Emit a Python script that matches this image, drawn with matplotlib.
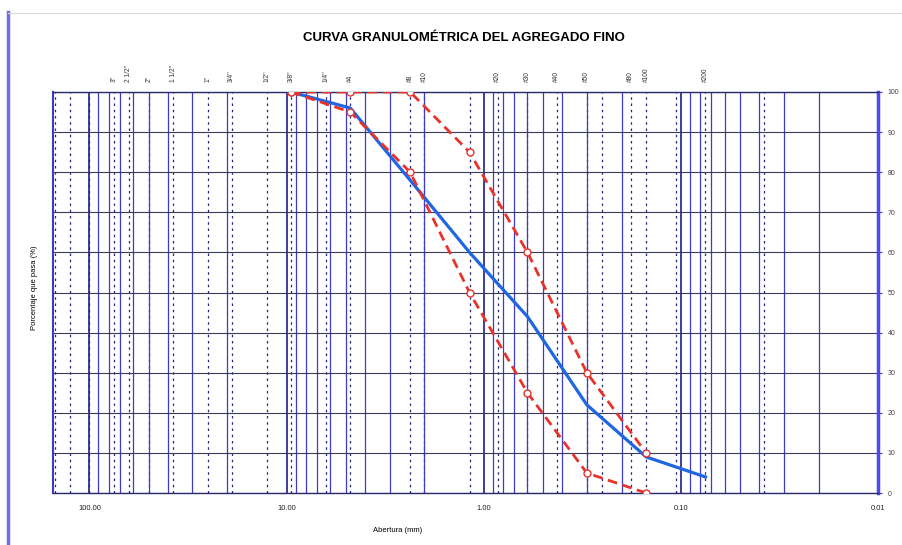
import numpy as np
import matplotlib
matplotlib.use("Agg")
import matplotlib.pyplot as plt
import matplotlib.transforms as mtransforms
from matplotlib.lines import Line2D
from matplotlib.ticker import LogLocator, FixedLocator, FuncFormatter, NullFormatter

plt.rcParams['font.family'] = ['Liberation Sans', 'DejaVu Sans']

# curva de la muestra (abertura en mm, % que pasa)
abertura = [9.5, 4.75, 2.36, 1.18, 0.6, 0.3, 0.15, 0.075]
pasa = [100, 96, 78, 60, 44, 22, 9, 4]

# limites de la norma
abertura_lim = [9.5, 4.75, 2.36, 1.18, 0.6, 0.3, 0.15]
lim_sup = [100, 100, 100, 85, 60, 30, 10]
lim_inf = [100, 95, 80, 50, 25, 5, 0]

# nombres de tamices arriba del grafico
tamiz_mm = [75, 63, 50, 37.5, 25, 19, 12.5, 9.5, 6.3, 4.75, 2.36, 2.0,
            0.85, 0.6, 0.425, 0.3, 0.18, 0.15, 0.075]
tamiz_lbl = ['3"', '2 1/2"', '2"', '1 1/2"', '1"', '3/4"', '1/2"', '3/8"', '1/4"',
             '#4', '#8', '#10', '#20', '#30', '#40', '#50', '#80', '#100', '#200']

# lineas punteadas en cada tamiz
lineas_tamiz = [150, 125, 100, 75, 63, 50, 37.5, 25, 19, 12.5, 9.5, 6.3, 4.75,
                2.36, 2.0, 1.18, 0.85, 0.6, 0.425, 0.3, 0.25, 0.18, 0.15,
                0.106, 0.075, 0.038]

x_major = [100, 10, 1, 0.1, 0.01]
y_ticks = list(range(0, 101, 10))

W, H = 903, 545
fig = plt.figure(figsize=(W / 100, H / 100), dpi=100)
ax = fig.add_axes([53 / W, 1 - 493 / H, (878 - 53) / W, (493 - 92) / H])

ax.set_xscale('log')
ax.set_xlim(153, 0.01)
ax.set_ylim(0, 100)

ax.xaxis.set_major_locator(FixedLocator(x_major))
ax.xaxis.set_major_formatter(FuncFormatter(lambda v, p: f"{v:.2f}"))
ax.xaxis.set_minor_locator(LogLocator(base=10, subs=np.arange(2, 10), numticks=30))
ax.xaxis.set_minor_formatter(NullFormatter())
ax.set_yticks(y_ticks)

ax.grid(which='major', axis='x', color='#1e1e8c', lw=1.2)
ax.grid(which='minor', axis='x', color='#3c3cc8', lw=0.9)
ax.grid(which='major', axis='y', color='#3a3a5a', lw=0.8)

for s in lineas_tamiz:
    ax.axvline(s, color='#26267a', lw=0.9, ls=(0, (2, 3)), zorder=1.5)

ax.plot(abertura_lim, lim_sup, color='#e8322a', lw=2, ls=(0, (3.5, 2)),
        marker='o', mfc='white', mec='#e8322a', ms=5, mew=1, zorder=4)
ax.plot(abertura_lim, lim_inf, color='#e8322a', lw=2, ls=(0, (3.5, 2)),
        marker='o', mfc='white', mec='#e8322a', ms=5, mew=1, zorder=4)
ax.plot(abertura, pasa, color='#1f66e0', lw=2.3, zorder=3)

ax.yaxis.tick_right()
ax.tick_params(axis='x', which='both', length=0, labelsize=5.5, pad=9, labelcolor='#222222')
ax.tick_params(axis='y', length=3, color='#3a3ad0', labelsize=5, pad=4, labelcolor='#444444')

for side in ['top', 'bottom']:
    ax.spines[side].set_color('#2a2a70')
    ax.spines[side].set_linewidth(1)
ax.spines['left'].set_color('#3a3ad0')
ax.spines['left'].set_linewidth(1.5)
ax.spines['right'].set_color('#4a4af0')
ax.spines['right'].set_linewidth(2.5)

trans = mtransforms.blended_transform_factory(ax.transData, ax.transAxes)
for s, lbl in zip(tamiz_mm, tamiz_lbl):
    ax.text(s, 1.025, lbl, rotation=90, ha='center', va='bottom', fontsize=4.8,
            color='#333333', transform=trans)

fig.text(464 / W, 1 - 38 / H, 'CURVA GRANULOMÉTRICA DEL AGREGADO FINO',
         fontsize=9.5, fontweight='bold', ha='center', va='center')
fig.text(35 / W, 1 - 288 / H, 'Porcentaje que pasa (%)', rotation=90,
         fontsize=5.5, ha='center', va='center')
fig.text(398 / W, 1 - 530 / H, 'Abertura (mm)', fontsize=5.5, ha='center', va='center')

# marco del area del grafico
fig.add_artist(Line2D([8 / W, 8 / W], [0, 1 - 12 / H], color='#7070e0', lw=2.5))
fig.add_artist(Line2D([8 / W, 1], [1 - 13 / H, 1 - 13 / H], color='#d8d8d8', lw=0.8))

fig.savefig('out.png', dpi=100)
